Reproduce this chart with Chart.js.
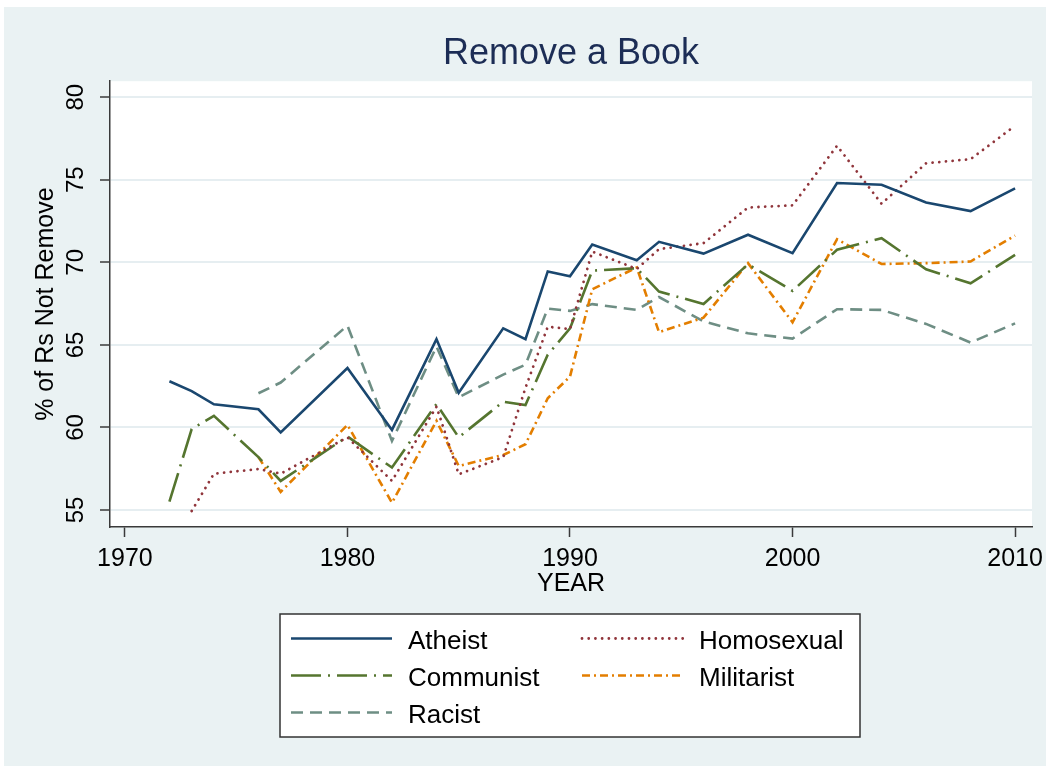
<!DOCTYPE html>
<html>
<head>
<meta charset="utf-8">
<title>Remove a Book</title>
<script src="https://cdn.jsdelivr.net/npm/chart.js@4.4.1/dist/chart.umd.min.js"></script>
<style>
  html, body { margin: 0; padding: 0; background: #ffffff; }
  canvas { display: block; }
</style>
</head>
<body>
<canvas id="graficoLibro" width="1048" height="769"></canvas>
<script>
// Survey years (x axis)
const years = [1972, 1973, 1974, 1976, 1977, 1980, 1982, 1984, 1985, 1987, 1988, 1989,
               1990, 1991, 1993, 1994, 1996, 1998, 2000, 2002, 2004, 2006, 2008, 2010];

// % of respondents who would not remove the book, by author type
const atheist    = [62.8, 62.2, 61.4, 61.1, 59.7, 63.6, 59.85, 65.35, 62.1, 66.0, 65.35, 69.45,
                    69.15, 71.08, 70.13, 71.24, 70.53, 71.67, 70.55, 74.8, 74.7, 73.62, 73.1, 74.48];
const homosexual = [null, 54.94, 57.2, 57.48, 57.2, 59.4, 56.76, 61.26, 57.16, 58.2, 62.4, 66.1,
                    65.95, 70.65, 69.6, 70.8, 71.16, 73.32, 73.45, 77.06, 73.55, 76.0, 76.25, 78.27];
const communist  = [55.5, 59.9, 60.7, 58.2, 56.76, 59.45, 57.57, 61.42, 59.4, 61.56, 61.36, 64.4,
                    66.0, 69.5, 69.64, 68.23, 67.48, 69.88, 68.27, 70.76, 71.46, 69.58, 68.73, 70.45];
const militarist = [null, null, null, 58.2, 56.1, 60.15, 55.44, 60.4, 57.67, 58.33, 58.98, 61.77,
                    63.08, 68.37, 69.69, 65.77, 66.65, 69.95, 66.37, 71.4, 69.9, 69.95, 70.05, 71.62];
const racist     = [null, null, null, 62.07, 62.72, 66.17, 59.18, 64.9, 61.83, 63.2, 63.8, 67.2,
                    67.06, 67.47, 67.12, 67.9, 66.42, 65.7, 65.38, 67.16, 67.12, 66.27, 65.14, 66.3];

// Tick labels
const xTicks = [1970, 1980, 1990, 2000, 2010];
const yTicks = [55, 60, 65, 70, 75, 80];

const FUENTE = '"Liberation Sans", Arial, Helvetica, sans-serif';

// Convierte una serie en puntos {x, y} saltando los años sin dato
function puntos(valores) {
    return years
        .map((anio, i) => ({ x: anio, y: valores[i] }))
        .filter(p => p.y !== null);
}

// Fondo estilo Stata: marco gris azulado y zona del grafico en blanco
const fondoPlugin = {
    id: 'fondo',
    beforeDraw(chart) {
        const ctx = chart.ctx;
        const area = chart.chartArea;
        ctx.save();
        ctx.fillStyle = '#ffffff';
        ctx.fillRect(0, 0, chart.width, chart.height);
        ctx.fillStyle = '#eaf2f3';
        ctx.fillRect(4, 7, chart.width - 6, chart.height - 10);
        ctx.fillStyle = '#ffffff';
        ctx.fillRect(area.left, area.top, area.right - area.left, area.bottom - area.top);
        ctx.restore();
    }
};

// Leyenda en dos columnas dentro de un recuadro, debajo del grafico
const leyendaPlugin = {
    id: 'leyenda',
    afterDraw(chart) {
        const ctx = chart.ctx;
        const caja = { left: 280, top: 614, width: 580, height: 123 };
        ctx.save();
        ctx.fillStyle = '#ffffff';
        ctx.fillRect(caja.left, caja.top, caja.width, caja.height);
        ctx.strokeStyle = '#333333';
        ctx.lineWidth = 1.5;
        ctx.strokeRect(caja.left, caja.top, caja.width, caja.height);

        chart.data.datasets.forEach((ds, i) => {
            const col = i % 2;
            const fila = Math.floor(i / 2);
            const x0 = caja.left + 11 + col * 291;
            const y = caja.top + 24.5 + fila * 37;
            ctx.beginPath();
            ctx.setLineDash(ds.borderDash || []);
            ctx.lineCap = ds.borderCapStyle || 'butt';
            ctx.lineWidth = ds.borderWidth;
            ctx.strokeStyle = ds.borderColor;
            ctx.moveTo(x0, y);
            ctx.lineTo(x0 + 101, y);
            ctx.stroke();
            ctx.setLineDash([]);
            ctx.fillStyle = '#000000';
            ctx.font = '26px ' + FUENTE;
            ctx.textAlign = 'left';
            ctx.textBaseline = 'alphabetic';
            ctx.fillText(ds.label, x0 + 117, y + 10.5);
        });
        ctx.restore();
    }
};

const grafico = document.getElementById('graficoLibro').getContext('2d');

new Chart(grafico, {
    type: 'line',
    data: {
        datasets: [
            {
                label: 'Atheist',
                data: puntos(atheist),
                borderColor: '#1a476f',
                borderWidth: 2.6,
                borderDash: []
            },
            {
                label: 'Homosexual',
                data: puntos(homosexual),
                borderColor: '#90353b',
                borderWidth: 2.8,
                borderDash: [0.01, 6.7],
                borderCapStyle: 'round'
            },
            {
                label: 'Communist',
                data: puntos(communist),
                borderColor: '#55752f',
                borderWidth: 2.6,
                borderDash: [30, 7, 2, 7]
            },
            {
                label: 'Militarist',
                data: puntos(militarist),
                borderColor: '#e37e00',
                borderWidth: 2.6,
                borderDash: [8, 4, 2, 4]
            },
            {
                label: 'Racist',
                data: puntos(racist),
                borderColor: '#6e8e84',
                borderWidth: 2.6,
                borderDash: [12, 7]
            }
        ]
    },
    options: {
        responsive: false,
        animation: false,
        parsing: false,
        elements: {
            point: { radius: 0 },
            line: { tension: 0, fill: false }
        },
        layout: {
            padding: { left: 0, right: 16, top: 0, bottom: 170 }
        },
        plugins: {
            legend: { display: false },
            tooltip: { enabled: false },
            title: {
                display: true,
                fullSize: false,
                text: 'Remove a Book',
                color: '#1c2d55',
                font: { family: FUENTE, size: 36, weight: 'normal' },
                padding: { top: 32, bottom: 6 }
            }
        },
        scales: {
            x: {
                type: 'linear',
                min: 1969.33,
                max: 2010.76,
                afterBuildTicks: escala => { escala.ticks = xTicks.map(v => ({ value: v })); },
                afterFit: escala => {
                    escala.height = 72;
                    escala.paddingLeft = 0;
                    escala.paddingRight = 0;
                },
                border: { display: true, color: '#3a3a3a', width: 1.5 },
                grid: {
                    drawOnChartArea: false,
                    drawTicks: true,
                    tickLength: 10,
                    tickColor: '#3a3a3a',
                    tickWidth: 1.5
                },
                ticks: {
                    color: '#000000',
                    font: { family: FUENTE, size: 25 },
                    padding: 7,
                    maxRotation: 0,
                    autoSkip: false,
                    callback: valor => String(valor)
                },
                title: {
                    display: true,
                    text: 'YEAR',
                    color: '#000000',
                    font: { family: FUENTE, size: 25 },
                    padding: { top: 0, bottom: 0 }
                }
            },
            y: {
                type: 'linear',
                min: 53.97,
                max: 80.97,
                afterBuildTicks: escala => { escala.ticks = yTicks.map(v => ({ value: v })); },
                afterFit: escala => {
                    escala.width = 110;
                    escala.paddingTop = 0;
                    escala.paddingBottom = 0;
                },
                border: { display: true, color: '#3a3a3a', width: 1.5 },
                grid: {
                    color: '#e6eef1',
                    lineWidth: 2,
                    drawTicks: true,
                    tickLength: 10,
                    tickColor: '#3a3a3a',
                    tickWidth: 1.5
                },
                ticks: {
                    color: '#000000',
                    font: { family: FUENTE, size: 24 },
                    minRotation: 90,
                    maxRotation: 90,
                    crossAlign: 'center',
                    padding: 10,
                    autoSkip: false,
                    callback: valor => String(valor)
                },
                title: {
                    display: true,
                    text: '% of Rs Not Remove',
                    color: '#000000',
                    font: { family: FUENTE, size: 25 },
                    padding: { top: 31, bottom: 0 }
                }
            }
        }
    },
    plugins: [fondoPlugin, leyendaPlugin]
});
</script>
</body>
</html>
